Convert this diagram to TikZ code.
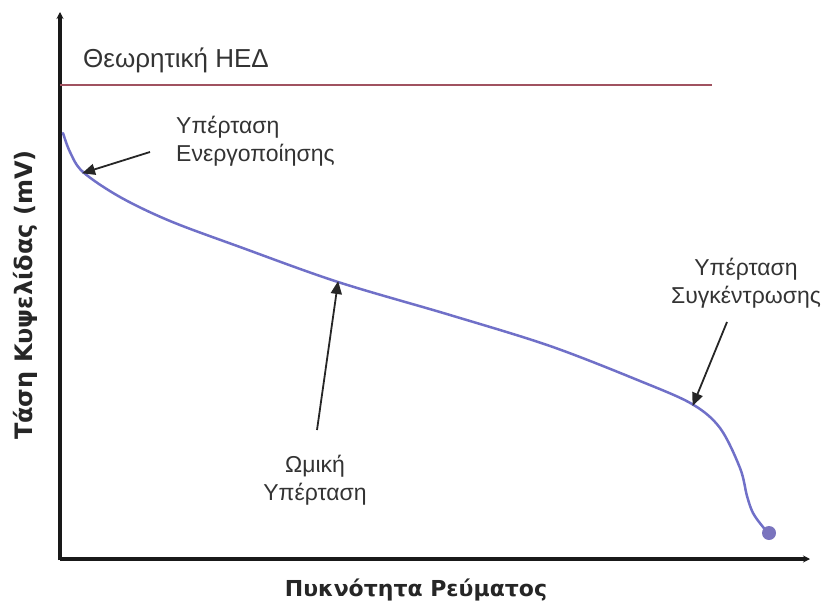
\documentclass[tikz,border=0pt]{standalone}
\usepackage{fontspec}
\setmainfont{Liberation Sans}
\setsansfont{DejaVu Sans}
\usetikzlibrary{arrows.meta}
\definecolor{emfred}{RGB}{160,82,96}
\definecolor{curveblue}{RGB}{112,112,200}
\definecolor{dotblue}{RGB}{122,116,190}
\begin{document}
\begin{tikzpicture}[x=1pt,y=-1pt,
  axisline/.style={line width=3.5pt,draw=black!90,-{Stealth[length=7pt,width=7pt]}},
  emfline/.style={line width=2.5pt,draw=emfred},
  curveline/.style={line width=2.5pt,draw=curveblue,line cap=round},
  pointer/.style={line width=1.8pt,draw=black!85,-{Triangle[length=13pt,width=11pt]},shorten >=-1pt},
  lab/.style={font=\fontsize{23}{28}\selectfont,text=black!80,inner sep=0pt},
  emflab/.style={font=\fontsize{26}{30}\selectfont,text=black!80,inner sep=0pt},
  axlab/.style={font=\sffamily\bfseries\fontsize{22}{26}\selectfont,text=black!85,inner sep=0pt},
  aylab/.style={font=\sffamily\bfseries\fontsize{24}{28}\selectfont,text=black!85,inner sep=0pt}]
\useasboundingbox (0,0) rectangle (825,602);
% axes
\coordinate (O) at (60,559);
\coordinate (ytop) at (60,12);
\coordinate (xend) at (810,559);
\coordinate (ybot) at (60,560);
\draw[axisline] (ybot) -- (ytop);
\draw[axisline] (O) -- (xend);
% theoretical EMF
\coordinate (e0) at (60,85);
\coordinate (e1) at (712,85);
\draw[emfline] (e0) -- (e1);
\node[emflab,anchor=west] (emf) at (83,60) {Θεωρητική ΗΕΔ};
% polarization curve
\draw[curveline] plot[smooth,tension=0.55] coordinates {(63,133) (70,152) (83,172) (120,197) (170,221) (240,247) (338,282) (450,315) (550,346) (640,381) (692,404) (720,428) (740,468) (747,496) (753,513) (763,527) (769,533)};
\node[circle,fill=dotblue,minimum size=14pt,inner sep=0pt] (enddot) at (769,533) {};
% annotations
\node[lab,anchor=west,align=left] (act) at (176,141) {Υπέρταση\\Ενεργοποίησης};
\node[lab,align=center] (conc) at (746,283) {Υπέρταση\\Συγκέντρωσης};
\node[lab,align=center] (ohm) at (315,480) {Ωμική\\Υπέρταση};
\coordinate (a1tail) at (150,152);
\coordinate (a1tip) at (83,173);
\coordinate (a2tail) at (317,430);
\coordinate (a2tip) at (338,282);
\coordinate (a3tail) at (727,322);
\coordinate (a3tip) at (693,405);
\draw[pointer] (a1tail) -- (a1tip);
\draw[pointer] (a2tail) -- (a2tip);
\draw[pointer] (a3tail) -- (a3tip);
% axis labels
\node[axlab] (xl) at (416,590) {Πυκνότητα Ρεύματος};
\node[aylab,rotate=90] (yl) at (25,295) {Τάση Κυψελίδας (mV)};
\end{tikzpicture}
\end{document}
